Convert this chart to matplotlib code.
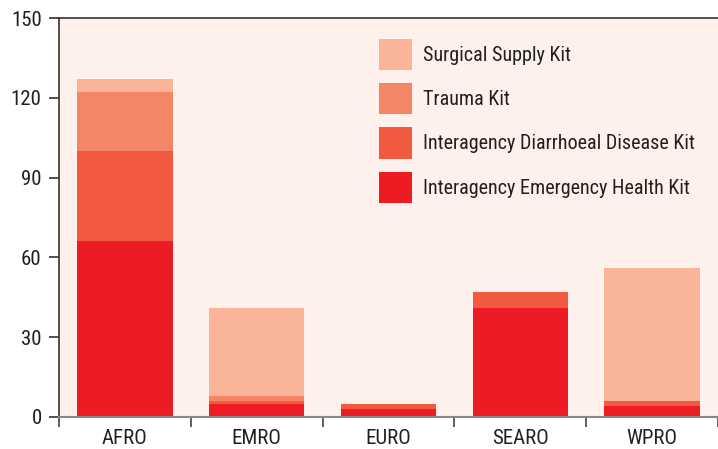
import matplotlib
matplotlib.use("Agg")
import matplotlib.pyplot as plt
import numpy as np

plt.rcParams['font.family'] = ['Roboto Condensed', 'Archivo Narrow', 'DejaVu Sans']

regions = ["AFRO", "EMRO", "EURO", "SEARO", "WPRO"]
kits = ["Interagency Emergency Health Kit", "Interagency Diarrhoeal Disease Kit",
        "Trauma Kit", "Surgical Supply Kit"]
emergency = [66, 5, 3, 41, 4]
diarrhoeal = [34, 1, 2, 6, 2]
trauma = [22, 2, 0, 0, 0]
surgical = [5, 33, 0, 0, 50]
colors = ["#ED1C24", "#F15A40", "#F48565", "#F9B49A"]

W, H = 718, 449
fig = plt.figure(figsize=(W / 100, H / 100), dpi=100)
ax = fig.add_axes([59 / W, (H - 417) / H, (W - 59) / W, (417 - 18) / H])
ax.set_facecolor("#FEF0EB")

x = np.arange(len(regions))
bottom = np.zeros(len(regions))
handles = []
for vals, lab, col in zip([emergency, diarrhoeal, trauma, surgical], kits, colors):
    b = ax.bar(x, vals, width=0.725, bottom=bottom, color=col, label=lab, linewidth=0)
    handles.append(b)
    bottom += np.array(vals)

ax.set_xlim(-0.5, -0.5 + (W - 59) / 134)
ax.set_ylim(0, 150)
ax.set_yticks([0, 30, 60, 90, 120, 150])
ax.set_xticks(np.arange(-0.5, 4.6, 1.0))
ax.set_xticklabels([])
ax.set_xticks(x, minor=True)
ax.set_xticklabels(regions, minor=True)
ax.tick_params(axis='x', which='minor', length=0, pad=9, labelsize=15, colors="#231F20")
ax.tick_params(axis='x', which='major', length=7, width=1.2, color="#444444")
ax.tick_params(axis='y', length=7.5, width=1.2, color="#333333", labelsize=15,
               labelcolor="#231F20", pad=5)

ax.spines['right'].set_visible(False)
ax.spines['left'].set_color("#333333")
ax.spines['left'].set_linewidth(1.2)
ax.spines['top'].set_color("#333333")
ax.spines['top'].set_linewidth(1.2)
ax.spines['bottom'].set_color("#888888")
ax.spines['bottom'].set_linewidth(1.5)

fs = 14.5
ax.legend(handles[::-1], kits[::-1], loc='upper left',
          bbox_to_anchor=(379 / W, 1 - 39 / H), bbox_transform=fig.transFigure,
          frameon=False, fontsize=fs, borderpad=0, borderaxespad=0,
          handlelength=1.65, handleheight=2.0, labelspacing=0.65,
          handletextpad=0.55, labelcolor="#231F20")

fig.savefig("out.png", dpi=100)
